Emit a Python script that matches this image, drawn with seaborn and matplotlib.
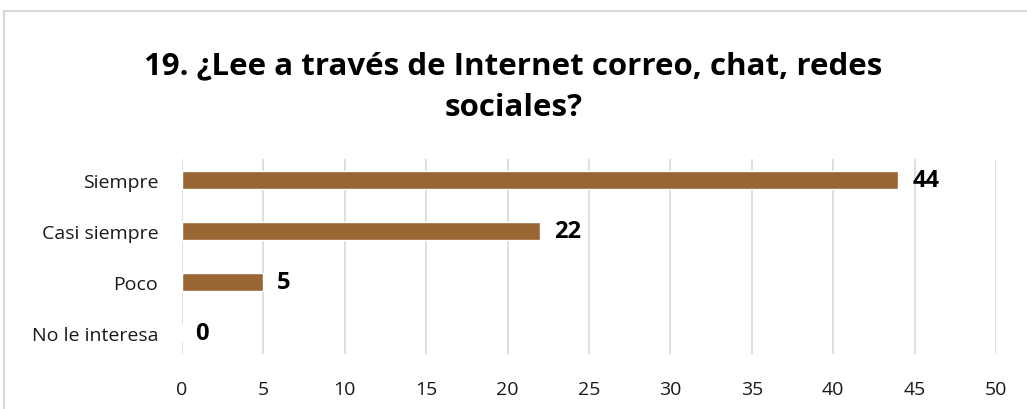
import matplotlib
matplotlib.use("Agg")
import matplotlib.pyplot as plt
import seaborn as sns
import pandas as pd
from matplotlib.patches import Rectangle

categories = ["Siempre", "Casi siempre", "Poco", "No le interesa"]
values = [44, 22, 5, 0]
xticks = [0, 5, 10, 15, 20, 25, 30, 35, 40, 45, 50]
title = "19. ¿Lee a través de Internet correo, chat, redes\nsociales?"

sns.set_theme(style="white")
plt.rcParams['font.family'] = ['Open Sans', 'DejaVu Sans']

df = pd.DataFrame({"cat": categories, "val": values})

fig = plt.figure(figsize=(10.27, 4.10), dpi=100)
ax = fig.add_axes([0.177, 0.134, 0.793, 0.476])

sns.barplot(data=df, y="cat", x="val", orient="h", color="#996633",
            saturation=1, width=0.36, ax=ax, order=categories)

ax.set_xlim(0, 50)
ax.set_ylim(3.42, -0.42)
ax.set_xticks(xticks)
ax.set_xticklabels([str(t) for t in xticks])
ax.grid(axis="x", color="#d9d9d9", linewidth=1.2)
ax.set_axisbelow(True)
for s in ax.spines.values():
    s.set_visible(False)
ax.set_xlabel("")
ax.set_ylabel("")
ax.tick_params(axis="both", length=0, labelsize=14, colors="#1a1a1a")
ax.tick_params(axis="x", pad=19)
ax.tick_params(axis="y", pad=17)

for i, v in enumerate(values):
    ax.text(v + 0.85, i, str(v), va="center", ha="left",
            fontsize=17, fontweight="bold", color="black")

fig.text(0.5, 0.788, title, ha="center", va="center", fontsize=22.5,
         fontweight="bold", color="black", linespacing=1.5)

fig.patches.append(Rectangle((0.004, -0.01), 1.0, 0.98, transform=fig.transFigure,
                             fill=False, edgecolor="#d9d9d9", linewidth=1.5))

fig.savefig("out.png", dpi=100)
